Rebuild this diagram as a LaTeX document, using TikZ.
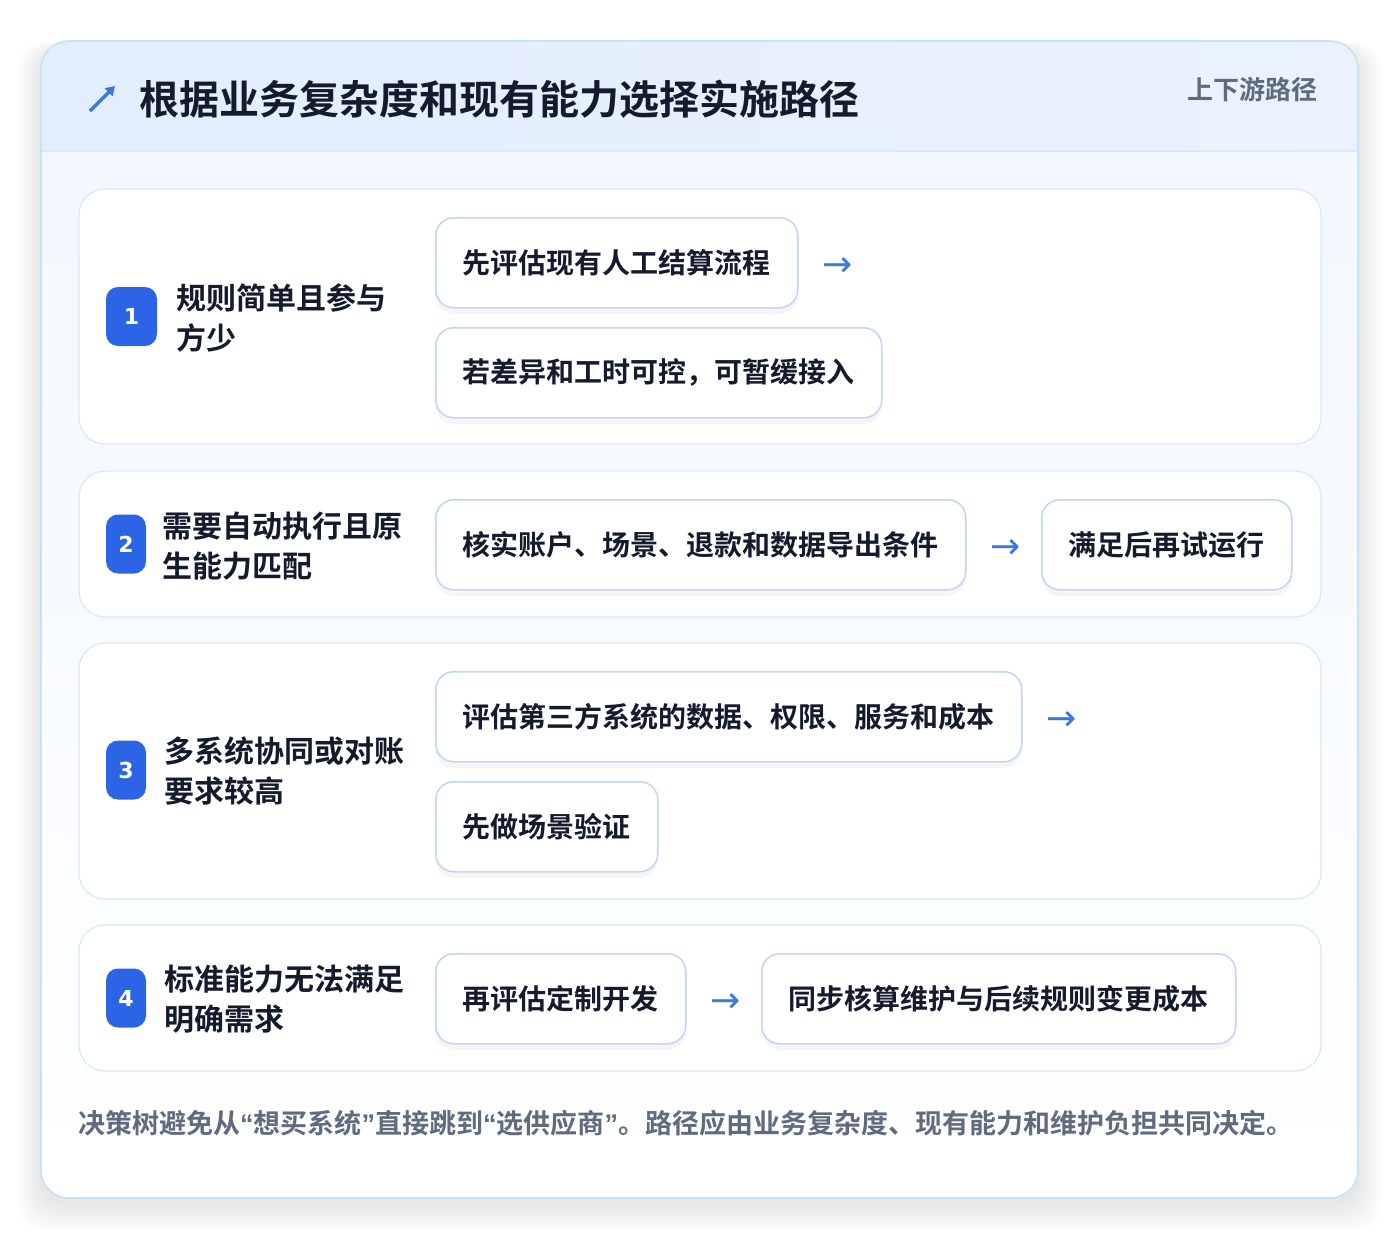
\documentclass[tikz,border=0pt]{standalone}
\usepackage{fontspec}
\newfontfamily\cjk{Noto Sans CJK SC}[BoldFont={Noto Sans CJK SC Bold}]
\newfontfamily\djv{DejaVu Sans}
\newfontfamily\lib{Liberation Sans}
\usetikzlibrary{positioning,shadows,arrows.meta}
\definecolor{cardline}{HTML}{C5E3F6}
\definecolor{headA}{HTML}{E1EEFC}
\definecolor{headB}{HTML}{EBF2FE}
\definecolor{bodytop}{HTML}{F1F7FE}
\definecolor{panelline}{HTML}{D9E8F8}
\definecolor{stepline}{HTML}{BED6F4}
\definecolor{badgeblue}{HTML}{2C64E6}
\definecolor{darktext}{HTML}{141B2D}
\definecolor{graytext}{HTML}{5F6B7E}
\definecolor{arrowblue}{HTML}{3A78E0}
\newcommand{\q}[1]{{\lib\bfseries #1}}
\tikzset{
  panel/.style={draw=panelline, line width=1.2pt, rounded corners=26pt, fill=white},
  stepbox/.style={draw=stepline, line width=1.5pt, rounded corners=18pt, fill=white,
    drop shadow={opacity=0.04, shadow xshift=0pt, shadow yshift=-6pt, fill=black},
    minimum height=90pt, inner xsep=27pt, inner ysep=0pt, anchor=north west,
    font=\cjk\bfseries\fontsize{28}{34}\selectfont, text=darktext},
  badge/.style={fill=badgeblue, rounded corners=12pt, minimum height=59pt, inner sep=0pt,
    text=white, font=\djv\bfseries\fontsize{22}{24}\selectfont},
  lbl/.style={anchor=west, align=left, inner sep=0pt, text=darktext,
    font=\cjk\bfseries\fontsize{30}{40}\selectfont},
  arr/.style={anchor=west, inner sep=0pt, text=arrowblue, font=\djv\fontsize{36}{36}\selectfont},
}
\begin{document}
\begin{tikzpicture}[x=1pt,y=-1pt]
\useasboundingbox (0,0) rectangle (1400,1240);
\fill[white] (0,0) rectangle (1400,1240);
% card shadow
\foreach \i in {1,...,24}{
  \fill[black, opacity=0.005, rounded corners=28pt] (41-\i,41-\i*0.3+8) rectangle (1358+\i,1198+\i*1.2+6);
}
% card body
\shade[rounded corners=28pt, top color=bodytop, bottom color=white] (41,41) rectangle (1358,1198);
\begin{scope}
  \clip[rounded corners=28pt] (41,41) rectangle (1358,1198);
  \shade[left color=headA, right color=headB] (41,41) rectangle (1358,151);
  \draw[cardline!70, line width=1.2pt] (41,151) -- (1358,151);
\end{scope}
\draw[cardline, line width=1.6pt, rounded corners=28pt] (41,41) rectangle (1358,1198);
% header
\coordinate (iconA) at (90,111);
\coordinate (iconB) at (115,86);
\draw[arrowblue, line width=3.4pt, -{Triangle[length=9pt,width=11pt]}] (iconA) -- (iconB);
\node[anchor=west, inner sep=0pt, text=darktext, font=\cjk\bfseries\fontsize{40}{44}\selectfont] (title) at (139,99) {根据业务复杂度和现有能力选择实施路径};
\node[anchor=east, inner sep=0pt, text=graytext, font=\cjk\bfseries\fontsize{26}{30}\selectfont] (tag) at (1318,90) {上下游路径};
% panels
\foreach \a/\b in {189/444, 471/617, 643/899, 925/1071}{
  \draw[panel] (79,\a) rectangle (1321,\b);
}
% row 1
\node[badge, minimum width=51pt] (b1) at (131.5,316.5) {1};
\node[lbl] (l1) at (176,318) {规则简单且参与\\方少};
\node[stepbox] (s11) at (435,217) {先评估现有人工结算流程};
\node[arr, right=24pt of s11.east, yshift=-4pt] (a1) {→};
\node[stepbox] (s12) at (435,327) {若差异和工时可控，可暂缓接入};
% row 2
\node[badge, minimum width=40pt] (b2) at (126,544) {2};
\node[lbl] (l2) at (162,546) {需要自动执行且原\\生能力匹配};
\node[stepbox] (s21) at (435,499) {核实账户、场景、退款和数据导出条件};
\node[arr, right=24pt of s21.east, yshift=-4pt] (a2) {→};
\node[stepbox] (s22) at (1041,499) {满足后再试运行};
% row 3
\node[badge, minimum width=40pt] (b3) at (126,770) {3};
\node[lbl] (l3) at (164,771) {多系统协同或对账\\要求较高};
\node[stepbox] (s31) at (435,671) {评估第三方系统的数据、权限、服务和成本};
\node[arr, right=24pt of s31.east, yshift=-4pt] (a3) {→};
\node[stepbox] (s32) at (435,781) {先做场景验证};
% row 4
\node[badge, minimum width=40pt] (b4) at (126,998) {4};
\node[lbl] (l4) at (164,999) {标准能力无法满足\\明确需求};
\node[stepbox] (s41) at (435,953) {再评估定制开发};
\node[arr, right=24pt of s41.east, yshift=-4pt] (a4) {→};
\node[stepbox] (s42) at (761,953) {同步核算维护与后续规则变更成本};
% footer
\node[anchor=west, inner sep=0pt, text=graytext, font=\cjk\bfseries\fontsize{27}{30}\selectfont] (foot) at (78,1123) {决策树避免从\q{“}想买系统\q{”}直接跳到\q{“}选供应商\q{”}。路径应由业务复杂度、现有能力和维护负担共同决定。};
\end{tikzpicture}
\end{document}
